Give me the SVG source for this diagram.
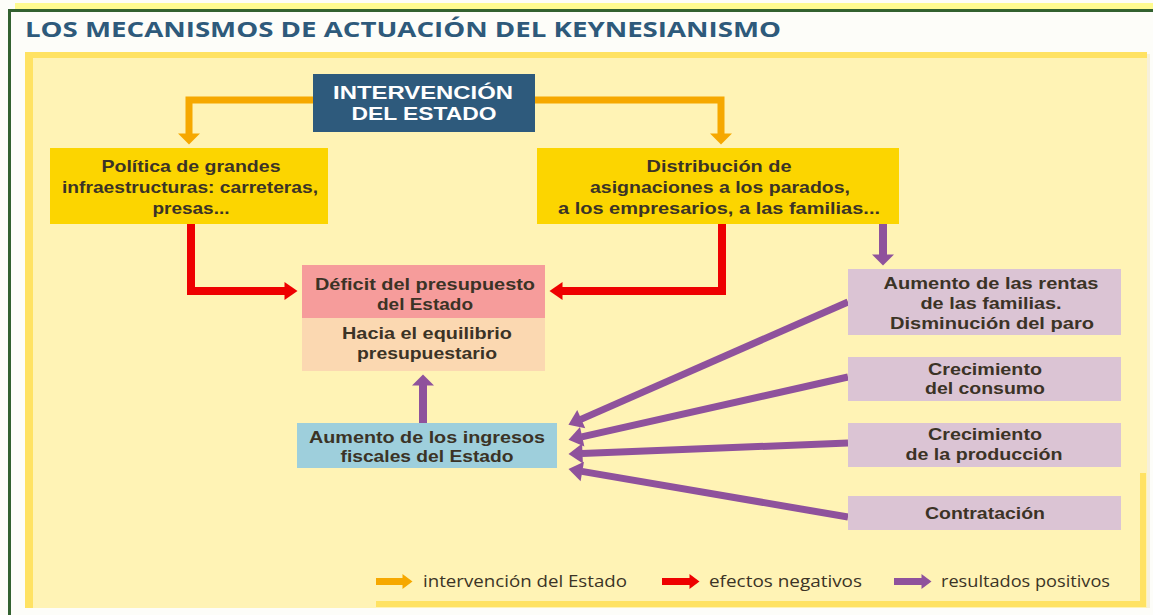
<svg xmlns="http://www.w3.org/2000/svg" width="1153" height="615" viewBox="0 0 1153 615">
<style>
.t{font-family:"Liberation Sans",Arial,sans-serif;font-weight:700;font-size:17px;fill:#3b3326;text-anchor:middle}
.w{font-family:"Liberation Sans",Arial,sans-serif;font-weight:700;font-size:18px;fill:#ffffff;text-anchor:middle}
.lg{font-family:"Open Sans","Liberation Sans",sans-serif;font-weight:400;font-size:17px;fill:#3b3326}
.ttl{font-family:"Open Sans","Liberation Sans",sans-serif;font-weight:700;font-size:21px;fill:#2e5a7b}
.o{fill:none;stroke:#f6a800;stroke-width:7}
.r{fill:none;stroke:#ee0000;stroke-width:8}
.p{fill:none;stroke:#8f529c;stroke-width:8}
.pd{fill:none;stroke:#8f529c;stroke-width:7}
</style>
<defs>
<marker id="hO" markerUnits="userSpaceOnUse" markerWidth="12" markerHeight="22" refX="0.5" refY="11" orient="auto" overflow="visible"><path d="M0,0 L11,11 L0,22z" fill="#f6a800"/></marker>
<marker id="hR" markerUnits="userSpaceOnUse" markerWidth="14" markerHeight="18" refX="0.5" refY="9" orient="auto" overflow="visible"><path d="M0,0 L13,9 L0,18z" fill="#ee0000"/></marker>
<marker id="hP" markerUnits="userSpaceOnUse" markerWidth="12" markerHeight="22" refX="0.5" refY="11" orient="auto" overflow="visible"><path d="M0,0 L11,11 L0,22z" fill="#8f529c"/></marker>
<marker id="hP2" markerUnits="userSpaceOnUse" markerWidth="15" markerHeight="20" refX="0.5" refY="10" orient="auto" overflow="visible"><path d="M0,0 L14,10 L0,20z" fill="#8f529c"/></marker>
<marker id="sO" markerUnits="userSpaceOnUse" markerWidth="11" markerHeight="15" refX="0.5" refY="7.5" orient="auto" overflow="visible"><path d="M0,0 L10,7.5 L0,15z" fill="#f6a800"/></marker>
<marker id="sR" markerUnits="userSpaceOnUse" markerWidth="11" markerHeight="15" refX="0.5" refY="7.5" orient="auto" overflow="visible"><path d="M0,0 L10,7.5 L0,15z" fill="#ee0000"/></marker>
<marker id="sP" markerUnits="userSpaceOnUse" markerWidth="11" markerHeight="15" refX="0.5" refY="7.5" orient="auto" overflow="visible"><path d="M0,0 L10,7.5 L0,15z" fill="#8f529c"/></marker>
</defs>

<g id="frame">
<rect x="0" y="0" width="1153" height="615" fill="#fdfdf9"/>
<rect x="15" y="3" width="1138" height="6" fill="#fffb90"/>
<rect x="8" y="9" width="1145" height="3" fill="#336130"/>
<rect x="8" y="9" width="3" height="606" fill="#336130"/>
<rect x="1147" y="54" width="3" height="554" fill="#f6f0dc"/>
<rect x="25" y="52" width="1122" height="556" fill="#fff3b5"/>
<rect x="25" y="52" width="1122" height="6" fill="#ffe263"/>
<rect x="25" y="52" width="8" height="556" fill="#ffe263"/>
<rect x="376" y="601" width="770" height="6" fill="#ffe263"/>
<rect x="1140" y="473" width="6" height="134" fill="#ffe263"/>
</g>

<text class="ttl" x="25" y="37" textLength="756" lengthAdjust="spacingAndGlyphs">LOS MECANISMOS DE ACTUACIÓN DEL KEYNESIANISMO</text>

<g id="connectors">
<path class="o" d="M313,100 H189 V134" marker-end="url(#hO)"/>
<path class="o" d="M535,100 H721 V134" marker-end="url(#hO)"/>
<path class="r" d="M191,224 V291 H285" marker-end="url(#hR)"/>
<path class="r" d="M722,224 V291 H562" marker-end="url(#hR)"/>
<path class="p" d="M883,224 V255" marker-end="url(#hP)"/>
<path class="p" d="M423,423 V385" marker-end="url(#hP)"/>
<path class="pd" d="M848,302 L580.8,419.4" marker-end="url(#hP2)"/>
<path class="pd" d="M848,377 L581.7,436.9" marker-end="url(#hP2)"/>
<path class="pd" d="M848,443 L582,453.5" marker-end="url(#hP2)"/>
<path class="pd" d="M848,517 L581.8,471.4" marker-end="url(#hP2)"/>
</g>

<g id="intervencion">
<rect x="313" y="74" width="222" height="58" fill="#2e5a7c"/>
<text class="w" x="423" y="98.5" textLength="180" lengthAdjust="spacingAndGlyphs">INTERVENCIÓN</text>
<text class="w" x="424" y="119.5" textLength="145" lengthAdjust="spacingAndGlyphs">DEL ESTADO</text>
</g>

<g id="politica">
<rect x="50" y="148" width="278" height="76" fill="#fcd500"/>
<text class="t" x="191" y="172" textLength="179" lengthAdjust="spacingAndGlyphs">Política de grandes</text>
<text class="t" x="190" y="193" textLength="256" lengthAdjust="spacingAndGlyphs">infraestructuras: carreteras,</text>
<text class="t" x="191" y="214" textLength="77" lengthAdjust="spacingAndGlyphs">presas...</text>
</g>

<g id="distribucion">
<rect x="537" y="148" width="362" height="76" fill="#fcd500"/>
<text class="t" x="719" y="172" textLength="145" lengthAdjust="spacingAndGlyphs">Distribución de</text>
<text class="t" x="720" y="193" textLength="260" lengthAdjust="spacingAndGlyphs">asignaciones a los parados,</text>
<text class="t" x="719" y="213.5" textLength="322" lengthAdjust="spacingAndGlyphs">a los empresarios, a las familias...</text>
</g>

<g id="deficit">
<rect x="302" y="265" width="243" height="53" fill="#f69c9b"/>
<rect x="302" y="318" width="243" height="53" fill="#fbd8b1"/>
<text class="t" x="425" y="290" textLength="220" lengthAdjust="spacingAndGlyphs">Déficit del presupuesto</text>
<text class="t" x="425" y="310" textLength="96" lengthAdjust="spacingAndGlyphs">del Estado</text>
<text class="t" x="427" y="339" textLength="170" lengthAdjust="spacingAndGlyphs">Hacia el equilibrio</text>
<text class="t" x="427" y="358.5" textLength="140" lengthAdjust="spacingAndGlyphs">presupuestario</text>
</g>

<g id="ingresos">
<rect x="297" y="423" width="260" height="45" fill="#9ecfdc"/>
<text class="t" x="427" y="442.5" textLength="236" lengthAdjust="spacingAndGlyphs">Aumento de los ingresos</text>
<text class="t" x="427" y="462" textLength="173" lengthAdjust="spacingAndGlyphs">fiscales del Estado</text>
</g>

<g id="rentas">
<rect x="848" y="269" width="273" height="66" fill="#dbc4d4"/>
<text class="t" x="991" y="289" textLength="215" lengthAdjust="spacingAndGlyphs">Aumento de las rentas</text>
<text class="t" x="991" y="309" textLength="141" lengthAdjust="spacingAndGlyphs">de las familias.</text>
<text class="t" x="992" y="329" textLength="204" lengthAdjust="spacingAndGlyphs">Disminución del paro</text>
</g>

<g id="consumo">
<rect x="848" y="357" width="273" height="44" fill="#dbc4d4"/>
<text class="t" x="985" y="374.5" textLength="114" lengthAdjust="spacingAndGlyphs">Crecimiento</text>
<text class="t" x="985" y="394" textLength="120" lengthAdjust="spacingAndGlyphs">del consumo</text>
</g>

<g id="produccion">
<rect x="848" y="423" width="273" height="44" fill="#dbc4d4"/>
<text class="t" x="985" y="440" textLength="114" lengthAdjust="spacingAndGlyphs">Crecimiento</text>
<text class="t" x="984" y="460" textLength="157" lengthAdjust="spacingAndGlyphs">de la producción</text>
</g>

<g id="contratacion">
<rect x="848" y="496" width="273" height="34" fill="#dbc4d4"/>
<text class="t" x="985" y="519" textLength="120" lengthAdjust="spacingAndGlyphs">Contratación</text>
</g>

<g id="legend">
<path class="o" d="M376,581.5 H403" marker-end="url(#sO)"/>
<text class="lg" x="423" y="587" textLength="204" lengthAdjust="spacingAndGlyphs">intervención del Estado</text>
<path class="r" d="M662,581.5 H690" style="stroke-width:7" marker-end="url(#sR)"/>
<text class="lg" x="709" y="587" textLength="153" lengthAdjust="spacingAndGlyphs">efectos negativos</text>
<path class="pd" d="M894,581.5 H922" marker-end="url(#sP)"/>
<text class="lg" x="941" y="587" textLength="169" lengthAdjust="spacingAndGlyphs">resultados positivos</text>
</g>
</svg>
